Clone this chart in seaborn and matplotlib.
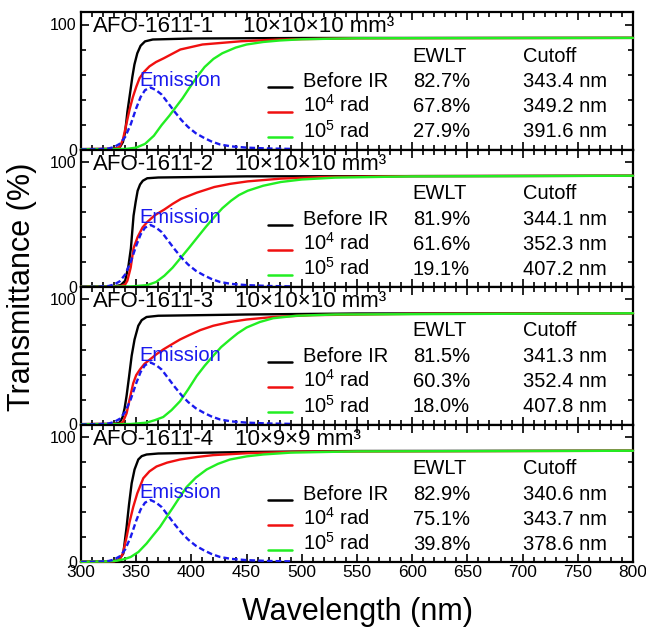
import numpy as np
import pandas as pd
import matplotlib
matplotlib.use("Agg")
import matplotlib.pyplot as plt
import seaborn as sns
from matplotlib.ticker import MultipleLocator, FixedLocator

sns.set_theme(style="ticks")
plt.rcParams["font.family"] = ["Liberation Sans", "DejaVu Sans"]
plt.rcParams["mathtext.fontset"] = "custom"
plt.rcParams["mathtext.rm"] = "Liberation Sans"
plt.rcParams["mathtext.it"] = "Liberation Sans:italic"
plt.rcParams["text.color"] = "black"
plt.rcParams["axes.labelcolor"] = "black"
plt.rcParams["xtick.color"] = "black"
plt.rcParams["ytick.color"] = "black"
plt.rcParams["axes.edgecolor"] = "black"

# ---------------- data ----------------
samples = ["AFO-1611-1", "AFO-1611-2", "AFO-1611-3", "AFO-1611-4"]
dims = ["10\u00d710\u00d710 mm\u00b3", "10\u00d710\u00d710 mm\u00b3",
        "10\u00d710\u00d710 mm\u00b3", "10\u00d79\u00d79 mm\u00b3"]
series_labels = ["Before IR", r"10$^{\mathregular{4}}$ rad", r"10$^{\mathregular{5}}$ rad"]
ewlt = [["82.7%", "67.8%", "27.9%"],
        ["81.9%", "61.6%", "19.1%"],
        ["81.5%", "60.3%", "18.0%"],
        ["82.9%", "75.1%", "39.8%"]]
cutoff = [["343.4 nm", "349.2 nm", "391.6 nm"],
          ["344.1 nm", "352.3 nm", "407.2 nm"],
          ["341.3 nm", "352.4 nm", "407.8 nm"],
          ["340.6 nm", "343.7 nm", "378.6 nm"]]

# emission spectrum (same in all panels)
em_wl = [300, 315, 325, 330, 335, 340, 345, 350, 354, 358, 363, 368, 373, 379, 385,
         391, 397, 404, 411, 418, 426, 436, 450, 470, 490]
em_T = [0, 0.2, 0.8, 2, 4.5, 10, 20, 33, 42, 47.5, 49.6, 47.5, 44, 37, 30,
        23.5, 18, 13, 9.5, 6.5, 4, 2.5, 1.5, 0.8, 0.5]

# panel 1
p1_before_wl = [300, 330, 335, 338, 340, 342, 344.6, 346.5, 348.4, 351, 354, 358, 365, 400, 500, 800]
p1_before_T = [0.3, 0.5, 1.5, 6, 14, 30, 46, 58, 68, 77, 83, 86.5, 88, 88.8, 89.2, 89.3]
p1_e4_wl = [300, 330, 335, 338, 341, 344, 347, 350, 353, 357, 362, 368, 375, 390, 410, 445, 480, 550, 800]
p1_e4_T = [0.3, 0.5, 2, 8, 20, 32, 42, 50, 57, 62, 66.5, 70, 73, 80, 84, 86.6, 88, 89, 89.3]
p1_e5_wl = [300, 340, 350, 358, 366, 373, 380, 386, 392, 398, 405, 412, 420, 428, 440, 450, 465,
            480, 500, 550, 800]
p1_e5_T = [0.2, 0.4, 1.5, 4.5, 11, 19.5, 27, 34, 41, 49, 58, 66, 72.5, 77, 81.5, 84, 86,
           87.2, 88.2, 89, 89.3]

# panel 2
p2_before_wl = [300, 330, 336, 340, 343, 345.2, 347.6, 349.5, 351.3, 353.5, 356, 360, 370, 450, 800]
p2_before_T = [0.3, 0.5, 1.5, 5, 17, 31, 57, 68, 77, 82, 85, 87, 87.6, 88.5, 89]
p2_e4_wl = [300, 335, 340, 342, 345, 347.6, 351.3, 355.8, 360, 367, 375.5, 383, 390.6, 405, 420.8,
            435, 451, 481, 520, 600, 800]
p2_e4_T = [0.3, 0.5, 2, 5, 15.5, 31, 40, 47.7, 52, 57.5, 62, 66.5, 70.5, 75.5, 80,
           82.5, 84.5, 86.7, 88, 88.7, 89]
p2_e5_wl = [300, 345, 360, 368, 375.5, 383, 390.6, 398, 405.7, 413, 420.8, 428, 435.9, 443, 451,
            465, 481, 500, 530, 600, 800]
p2_e5_T = [0.2, 0.4, 1.5, 4, 9, 15.5, 23.6, 31.5, 40, 48, 56, 63, 69, 73.5, 77,
           81, 84, 86, 87.5, 88.5, 89]

# panel 3
p3_before_wl = [300, 330, 335, 337.7, 339.5, 341.3, 343.5, 345.9, 348.5, 351.9, 355, 359.4, 370, 450, 550, 800]
p3_before_T = [0.3, 0.5, 1.5, 6, 13, 23, 38, 55, 68, 79, 83.5, 86, 87, 88, 88.8, 89]
p3_e4_wl = [300, 335, 338, 341.3, 344, 347.3, 350, 353.4, 357.5, 362.4, 368, 374.5, 382, 389.7, 398,
            408, 419.8, 435, 450, 474, 510, 600, 800]
p3_e4_T = [0.3, 0.5, 2, 9, 20, 33, 39.5, 44, 48.5, 52, 56, 60, 64, 68, 71.5,
           75.5, 79, 82, 84, 86, 87.5, 88.5, 89]
p3_e5_wl = [300, 345, 359.4, 367, 374.5, 382, 389.7, 397, 404.8, 412, 419.8, 427, 435, 442, 450,
            462, 474, 495, 530, 800]
p3_e5_T = [0.2, 0.4, 1.5, 3.5, 6, 11.5, 18.6, 28, 38.8, 47, 55, 62, 68, 73, 77.6,
           82, 85, 87, 88, 89]

# panel 4
p4_before_wl = [300, 328, 334, 338.3, 341.3, 343.5, 345.9, 348.5, 351.9, 355, 359.4, 370, 450, 550, 800]
p4_before_T = [0.3, 0.5, 1.5, 6.7, 28, 46, 63, 74, 82, 84.7, 86, 86.8, 88, 88.8, 89]
p4_e4_wl = [300, 330, 335, 338, 341.3, 344, 347.3, 351, 356.4, 362, 368.4, 378, 389.7, 405, 419.8,
            450, 500, 800]
p4_e4_T = [0.3, 0.5, 2, 7, 20, 32, 44, 55, 67, 72.5, 76.4, 79.5, 82, 84, 85.5,
           87, 88.3, 89]
p4_e5_wl = [300, 325, 332, 338, 345, 352, 359.4, 365, 371.5, 377.5, 383.6, 389.5, 395.7, 404, 413.8,
            424, 435, 450, 465, 490, 550, 800]
p4_e5_T = [0.2, 0.5, 1, 2, 4, 8, 14.8, 21, 28, 36, 44, 52, 60, 67.5, 74,
           78.5, 82, 84.5, 86, 87.5, 88.5, 89]

panels = [
    [(p1_before_wl, p1_before_T), (p1_e4_wl, p1_e4_T), (p1_e5_wl, p1_e5_T)],
    [(p2_before_wl, p2_before_T), (p2_e4_wl, p2_e4_T), (p2_e5_wl, p2_e5_T)],
    [(p3_before_wl, p3_before_T), (p3_e4_wl, p3_e4_T), (p3_e5_wl, p3_e5_T)],
    [(p4_before_wl, p4_before_T), (p4_e4_wl, p4_e4_T), (p4_e5_wl, p4_e5_T)],
]
colors = ["#000000", "#f01010", "#22ee22"]
em_color = "#1a1aee"

# ---------------- figure ----------------
W, H = 646, 628
fig = plt.figure(figsize=(W / 100, H / 100), dpi=100)
ax_left, ax_right = 81 / W, 633 / W
top_px, bot_px = 12, 562
ph = (bot_px - top_px) / 4
dims_x = [0.293, 0.279, 0.279, 0.279]

for i in range(4):
    y0 = 1 - (top_px + (i + 1) * ph) / H
    ax = fig.add_axes([ax_left, y0, ax_right - ax_left, ph / H])
    for (wl, T), c in zip(panels[i], colors):
        sns.lineplot(x=wl, y=T, ax=ax, color=c, lw=1.7, zorder=3, clip_on=False)
    sns.lineplot(x=em_wl, y=em_T, ax=ax, color=em_color, lw=1.7, zorder=3,
                 linestyle=(0, (2.4, 1.3)))
    ax.set_xlim(300, 800)
    ax.set_ylim(0, 110)
    ax.xaxis.set_major_locator(MultipleLocator(50))
    ax.xaxis.set_minor_locator(MultipleLocator(10))
    ax.yaxis.set_major_locator(FixedLocator([0, 100]))
    ax.yaxis.set_minor_locator(FixedLocator([20, 40, 60, 80]))
    ax.tick_params(which="both", direction="in", top=True, right=True, width=1.2, color="black")
    ax.tick_params(which="major", length=6)
    ax.tick_params(which="minor", length=3.5)
    ax.tick_params(axis="y", labelsize=11.5, pad=3, labelcolor="black")
    ax.tick_params(axis="x", labelsize=12.5, pad=2, labelcolor="black")
    if i < 3:
        ax.tick_params(axis="x", labelbottom=False)
    for s in ax.spines.values():
        s.set_linewidth(1.6)
        s.set_color("black")
    ax.set_xlabel("")
    ax.set_ylabel("")

    # titles
    ax.text(0.022, 0.853, samples[i], transform=ax.transAxes, fontsize=16, va="baseline",
            color="black")
    ax.text(dims_x[i], 0.853, dims[i], transform=ax.transAxes, fontsize=16, va="baseline",
            color="black")
    ax.text(0.105, 0.465, "Emission", transform=ax.transAxes, fontsize=14.5,
            color=em_color, va="baseline")
    # table-like legend
    ax.text(0.601, 0.64, "EWLT", transform=ax.transAxes, fontsize=14.5, va="baseline",
            color="black")
    ax.text(0.801, 0.64, "Cutoff", transform=ax.transAxes, fontsize=14.5, va="baseline",
            color="black")
    row_y = [0.451, 0.272, 0.088]
    for r in range(3):
        ax.plot([0.339, 0.382], [row_y[r], row_y[r]], transform=ax.transAxes,
                color=colors[r], lw=1.8)
        ax.text(0.4016, row_y[r], series_labels[r], transform=ax.transAxes,
                fontsize=14.5, va="baseline", color="black")
        ax.text(0.601, row_y[r], ewlt[i][r], transform=ax.transAxes,
                fontsize=14.5, va="baseline", color="black")
        ax.text(0.801, row_y[r], cutoff[i][r], transform=ax.transAxes,
                fontsize=14.5, va="baseline", color="black")

fig.text((81 + 633) / 2 / W, 1 - 620 / H, "Wavelength (nm)", fontsize=22,
         ha="center", va="baseline", color="black")
fig.text(0.034, 1 - 287 / H, "Transmittance (%)", fontsize=22, rotation=90,
         ha="center", va="center", color="black")

fig.savefig("out.png", dpi=100)
